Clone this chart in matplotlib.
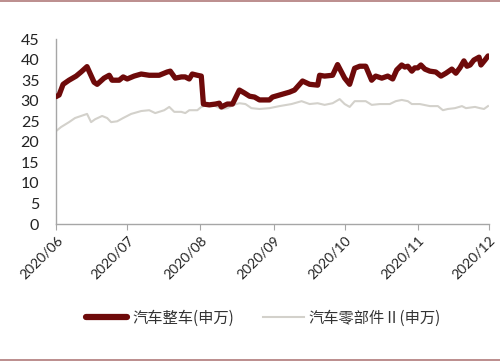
import matplotlib
matplotlib.use("Agg")
import matplotlib.pyplot as plt
from matplotlib.lines import Line2D
import pandas as pd

plt.rcParams['font.family'] = ['Lato', 'Noto Sans CJK SC', 'DejaVu Sans']

start = pd.Timestamp('2020-06-01')

# day offsets from 2020-06-01 and values, series 1: 汽车整车(申万)
auto_days = [0, 1.3, 3.0, 5.5, 8.5, 10.6, 13.1, 16.1, 17.4, 20.3, 22.5, 23.7, 26.7, 28.4,
             30.1, 33.0, 36.0, 39.4, 43.6, 47.0, 48.3, 50.4, 53.0, 54.6, 56.3, 57.6, 59.7,
             61.4, 62.3, 64.8, 67.4, 69.0, 69.9, 72.4, 74.6, 75.8, 77.5, 79.6, 81.8, 83.9,
             86.0, 88.1, 90.2, 91.5, 94.5, 98.7, 100.8, 104.2, 107.2, 110.6, 111.4, 113.5,
             116.9, 119.0, 122.0, 124.1, 126.2, 128.4, 130.9, 133.4, 135.1, 137.7, 140.2,
             142.3, 144.0, 146.1, 147.4, 148.7, 150.4, 151.6, 152.9, 154.2, 155.9, 158.0,
             160.5, 162.7, 164.8, 167.3, 169.0, 170.7, 172.4, 173.7, 175.0, 176.6, 178.8,
             179.6, 181.3, 182.6]
auto_vals = [31.0, 31.4, 34.0, 35.0, 36.0, 37.0, 38.3, 34.5, 34.0, 35.5, 36.2, 35.0, 35.0,
             35.8, 35.3, 36.0, 36.5, 36.2, 36.2, 37.0, 37.2, 35.5, 35.8, 35.8, 35.3, 36.5,
             36.2, 36.0, 29.2, 29.0, 29.2, 29.4, 28.5, 29.2, 29.2, 30.6, 32.6, 31.9, 31.1,
             30.9, 30.2, 30.2, 30.2, 30.9, 31.4, 32.1, 32.6, 34.8, 34.0, 33.8, 36.2, 36.0,
             36.2, 38.8, 35.5, 34.0, 37.9, 38.4, 38.4, 35.0, 36.0, 35.5, 36.0, 35.3, 37.5,
             38.7, 38.2, 38.4, 37.2, 38.0, 38.0, 38.7, 37.7, 37.2, 37.0, 36.0, 36.7, 37.7,
             36.7, 38.0, 39.7, 38.4, 38.7, 39.9, 40.6, 38.7, 39.9, 40.9]

# series 2: 汽车零部件Ⅱ(申万) — positions, converted to days
parts_px = [57, 62, 70, 76, 82, 88, 92, 96, 103, 108, 112, 118, 124, 132, 142, 150, 156,
            165, 170, 175, 182, 186, 190, 198, 202, 210, 216, 222, 228, 234, 240, 246, 252,
            260, 270, 280, 292, 302, 310, 318, 325, 333, 340, 345, 350, 355, 366, 372, 380,
            390, 396, 402, 408, 412, 420, 430, 438, 443, 448, 455, 462, 466, 475, 480, 484, 488]
parts_vals = [22.6, 23.6, 24.8, 25.8, 26.3, 26.8, 24.8, 25.5, 26.3, 25.8, 24.8, 25.0, 25.8,
              26.8, 27.5, 27.7, 27.0, 27.7, 28.5, 27.3, 27.3, 27.0, 27.7, 27.7, 28.5, 29.2,
              28.7, 28.0, 28.2, 29.0, 29.4, 29.2, 28.2, 28.0, 28.2, 28.7, 29.2, 29.9, 29.2,
              29.4, 29.0, 29.4, 30.4, 29.2, 28.5, 29.9, 29.9, 29.0, 29.2, 29.2, 29.9, 30.2,
              29.9, 29.2, 29.2, 28.7, 28.7, 27.7, 28.0, 28.2, 28.7, 28.2, 28.5, 28.2, 28.0, 28.7]
parts_days = [(p - 57) * 183 / 432 for p in parts_px]

tick_labels = ['2020/06', '2020/07', '2020/08', '2020/09', '2020/10', '2020/11', '2020/12']
tick_dates = [pd.Timestamp(t.replace('/', '-') + '-01') for t in tick_labels]

auto_x = [start + pd.Timedelta(days=d) for d in auto_days]
parts_x = [start + pd.Timedelta(days=d) for d in parts_days]

fig = plt.figure(figsize=(5, 3.62), dpi=100)
ax = fig.add_axes([0.112, 0.381, 0.866, 0.511])

ax.plot(auto_x, auto_vals, color='#6E0A0A', lw=3.8, solid_joinstyle='round',
        solid_capstyle='round', label='汽车整车(申万)', zorder=3)
ax.plot(parts_x, parts_vals, color='#D3D1CB', lw=1.5, label='汽车零部件Ⅱ(申万)', zorder=2)

ax.set_ylim(0, 45)
ax.set_yticks(range(0, 46, 5))
ax.set_xlim(tick_dates[0], tick_dates[-1])
ax.set_xticks(tick_dates)
ax.set_xticklabels(tick_labels, rotation=45, ha='right', rotation_mode='anchor')

for s in ['top', 'right']:
    ax.spines[s].set_visible(False)
for s in ['left', 'bottom']:
    ax.spines[s].set_color('#A6A6A6')
    ax.spines[s].set_linewidth(1.0)
ax.tick_params(axis='y', length=0, labelsize=11.5, pad=12, colors='#222222')
ax.tick_params(axis='x', length=4, color='#A6A6A6', labelsize=10, pad=3, labelcolor='#222222')

leg = fig.legend(loc='center', bbox_to_anchor=(0.527, 0.122), ncol=2, frameon=False,
                 handlelength=2.7, columnspacing=1.9, handletextpad=0.3,
                 prop={'family': ['Noto Sans CJK SC', 'DejaVu Sans'], 'size': 11})
for t in leg.get_texts():
    t.set_color('#333333')
leg.get_lines()[0].set_linewidth(4.5)

fig.add_artist(Line2D([0, 1], [0.997, 0.997], color='#B07A7A', lw=1.2, transform=fig.transFigure))
fig.add_artist(Line2D([0, 1], [0.006, 0.006], color='#B07A7A', lw=1.2, transform=fig.transFigure))

fig.savefig('out.png', dpi=100)
